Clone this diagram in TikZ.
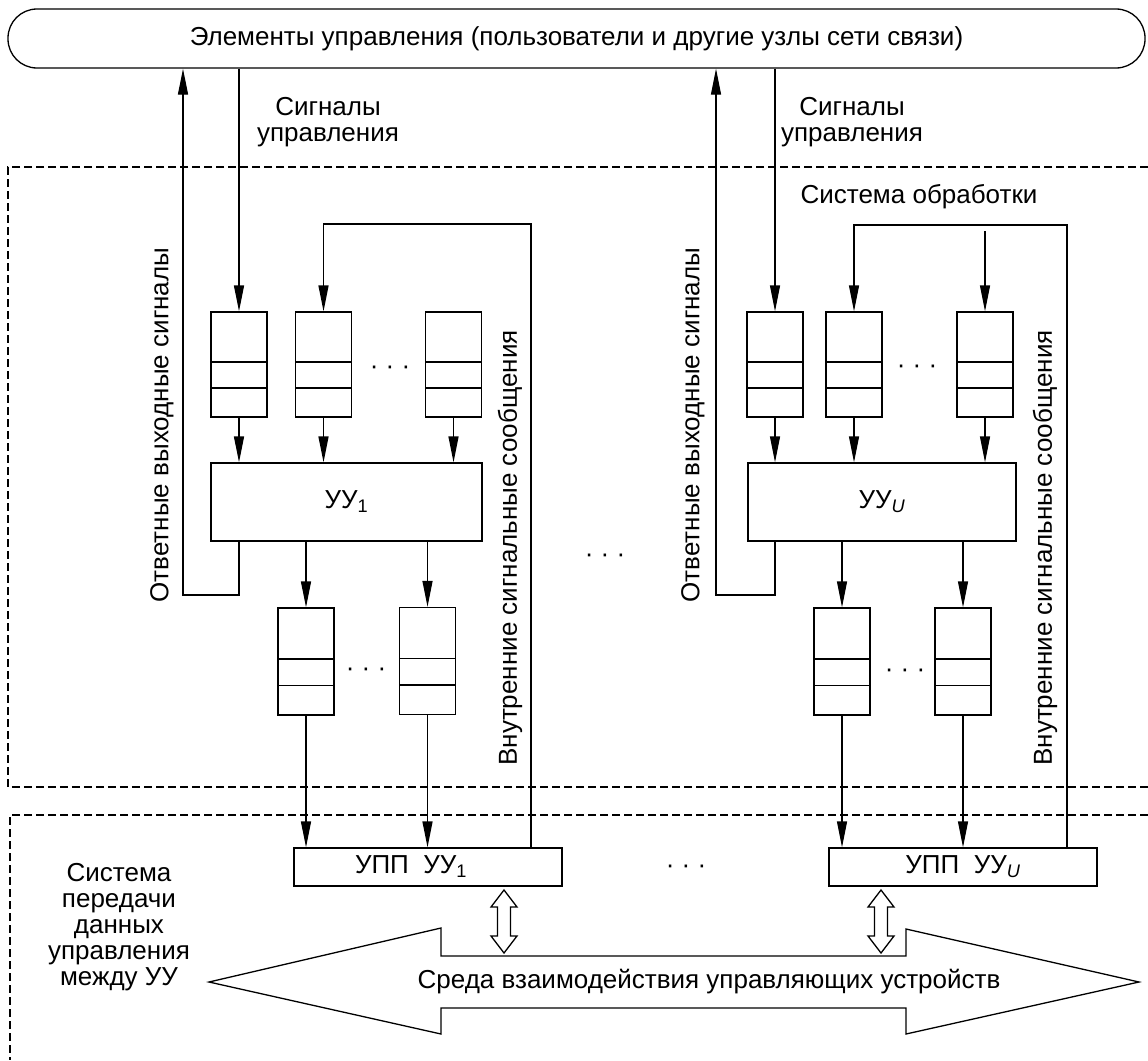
\documentclass[tikz,border=0pt]{standalone}
\usepackage{fontspec}
\setmainfont{Liberation Sans}
\usetikzlibrary{arrows.meta,calc}
\begin{document}
\begin{tikzpicture}[x=1pt,y=-1pt,line width=1.3pt,
  every node/.style={font=\fontsize{26}{26}\selectfont},
  arr/.style={-{Triangle[length=26pt,width=10pt]}},
  box/.style={draw,fill=white,inner sep=0pt},
  queue/.style={box,minimum width=56pt,minimum height=105pt,
    path picture={
      \draw[line width=1.5pt] ($(path picture bounding box.north west)!0.476!(path picture bounding box.south west)$) -- ($(path picture bounding box.north east)!0.476!(path picture bounding box.south east)$);
      \draw[line width=1.5pt] ($(path picture bounding box.north west)!0.726!(path picture bounding box.south west)$) -- ($(path picture bounding box.north east)!0.726!(path picture bounding box.south east)$);
    }},
  lbl/.style={align=center,inner sep=0pt},
  dashbox/.style={dash pattern=on 8pt off 4pt},
  hdarrow/.pic={\draw[fill=white] (0,0) -- (13,17) -- (6.5,17) -- (6.5,46) -- (13,46) -- (0,63) -- (-13,46) -- (-6.5,46) -- (-6.5,17) -- (-13,17) -- cycle;}
]
\useasboundingbox (0,0) rectangle (1148,1060);
\fill[white] (0,0) rectangle (1148,1060);

% dashed system frames
\draw[dashbox] (1148,167) -- (8,167) -- (8,787) -- (1148,787);
\draw[dashbox] (1148,815) -- (10,815) -- (10,1060);

% top element
\node[draw,rounded corners=29pt,minimum width=1137pt,minimum height=59pt,inner sep=0pt] (top) at (576.5,38.5) {Элементы управления (пользователи и другие узлы сети связи)};

% left control device block
\node[queue] (a1) at (239,364.5) {};
\node[queue] (a2) at (323.5,364.5) {};
\node[queue] (a3) at (453.5,364.5) {};
\node[box,minimum width=271pt,minimum height=78pt] (uu1) at (346.5,502) {УУ\textsubscript{1}};
\node[queue,minimum height=107pt] (b1) at (306,661.5) {};
\node[queue,minimum height=107pt] (b2) at (427.5,661) {};
\node[box,minimum width=268pt,minimum height=38pt] (upp1) at (428,867) {};
\node[lbl] (upp1t) at (411,867) {УПП\ \ УУ\textsubscript{1}};

% right control device block
\node[queue] (c1) at (775,364.5) {};
\node[queue] (c2) at (854,364.5) {};
\node[queue] (c3) at (985,364.5) {};
\node[box,minimum width=268pt,minimum height=78pt] (uuU) at (882,502) {УУ\textsubscript{\textit{U}}};
\node[queue,minimum height=107pt] (d1) at (842,661.5) {};
\node[queue,minimum height=107pt] (d2) at (963,661.5) {};
\node[box,minimum width=268pt,minimum height=38pt] (uppU) at (963,867) {УПП\ \ УУ\textsubscript{\textit{U}}};

% dots
\node[lbl] (dq1) at (390,370) {· · ·};
\node[lbl] (dq2) at (917,369) {· · ·};
\node[lbl] (dl1) at (366,672) {· · ·};
\node[lbl] (dl2) at (905,673) {· · ·};
\node[lbl] (dmid) at (605,558) {· · ·};
\node[lbl] (dlow) at (686,869) {· · ·};

% coordinates for routed connectors
\coordinate (fbL) at (183,595);
\coordinate (fbR) at (716,595);
\coordinate (ilL) at (531,224);
\coordinate (ilR) at (1067,225);
\coordinate (exR) at (985,231);

% control signals and response signals
\draw[arr] (top.south -| a1) -- (a1.north);
\draw[arr] (top.south -| c1) -- (c1.north);
\draw[arr] (uu1.south -| a1) |- (fbL) -- (top.south -| fbL);
\draw[arr] (uuU.south -| c1) |- (fbR) -- (top.south -| fbR);

% internal signalling loops
\draw[arr] (upp1.north -| ilL) -- (ilL) -| (a2.north);
\draw[arr] (uppU.north -| ilR) -- (ilR) -| (c2.north);
\draw[arr] (exR) -- (c3.north);

% queues to devices
\foreach \q in {a1,a2,a3} \draw[arr] (\q.south) -- (uu1.north -| \q);
\foreach \q in {c1,c2,c3} \draw[arr] (\q.south) -- (uuU.north -| \q);
\foreach \q in {b1,b2} {
  \draw[arr] (uu1.south -| \q) -- (\q.north);
  \draw[arr] (\q.south) -- (upp1.north -| \q);
}
\foreach \q in {d1,d2} {
  \draw[arr] (uuU.south -| \q) -- (\q.north);
  \draw[arr] (\q.south) -- (uppU.north -| \q);
}

% interaction medium
\draw[fill=white] (209,982) -- (441,928) -- (441,956) -- (906,956) -- (906,929) -- (1139,982) -- (906,1034) -- (906,1008) -- (441,1008) -- (441,1034) -- cycle;
\node[lbl] (medium) at (709,982) {Среда взаимодействия управляющих устройств};
\pic at (504,890) {hdarrow};
\pic at (881,890) {hdarrow};

% labels
\node[lbl] (sig1) at (328,122) {Сигналы\\управления};
\node[lbl] (sig2) at (852,122) {Сигналы\\управления};
\node[lbl] (proc) at (919,197) {Система обработки};
\node[lbl,rotate=90] (resp1) at (162,425) {Ответные выходные сигналы};
\node[lbl,rotate=90] (resp2) at (693,425) {Ответные выходные сигналы};
\node[lbl,rotate=90] (int1) at (510,548) {Внутренние сигнальные сообщения};
\node[lbl,rotate=90] (int2) at (1045,548) {Внутренние сигнальные сообщения};
\node[lbl] (transf) at (119,927) {Система\\передачи\\данных\\управления\\между УУ};
\end{tikzpicture}
\end{document}
